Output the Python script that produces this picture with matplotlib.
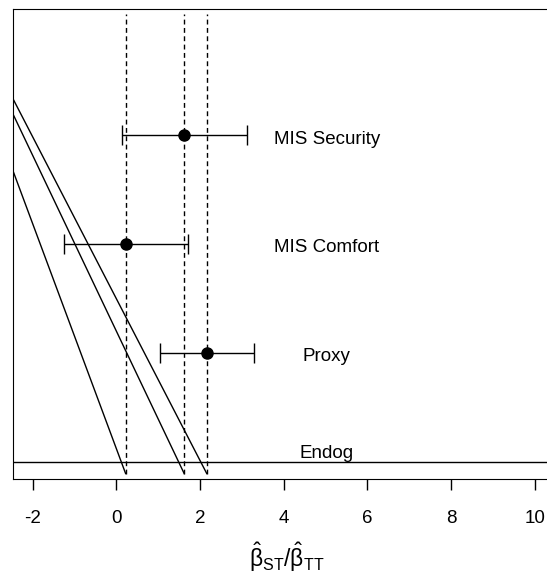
import numpy as np
import matplotlib.pyplot as plt

plt.rcParams['font.family'] = ['Liberation Sans', 'DejaVu Sans']
plt.rcParams['mathtext.fontset'] = 'custom'
plt.rcParams['mathtext.rm'] = 'Liberation Sans'
plt.rcParams['mathtext.it'] = 'Liberation Sans'

# model rows (y = 0 .. 3)
labels = ['Endog', 'Proxy', 'MIS Comfort', 'MIS Security']
rows = [0, 1, 2, 3]

# estimates with intervals (Proxy, MIS Comfort, MIS Security)
est_rows = [1, 2, 3]
est = [2.16, 0.22, 1.62]
ci_lo = [1.05, -1.25, 0.13]
ci_hi = [3.29, 1.71, 3.13]

# slanted lines: left-edge height, ending at each estimate
slant_start = [3.34, 2.68, 3.20]
seg_lo, seg_hi = -0.11, 4.11
x_left, x_right = -2.48, 10.63
xticks = [-2, 0, 2, 4, 6, 8, 10]

fig = plt.figure(figsize=(5.47, 5.74), dpi=100)
ax = fig.add_axes([12.7/547, 1 - 479/574, (561 - 12.7)/547, (479 - 9)/574])

for e, s in zip(est, slant_start):
    ax.plot([x_left, e], [s, seg_lo], color='black', lw=1)
    ax.plot([e, e], [seg_lo, seg_hi], color='black', lw=1, ls=(0, (3.5, 2.5)))

ax.axhline(0, color='black', lw=1)

ax.errorbar(est, est_rows, xerr=[np.subtract(est, ci_lo), np.subtract(ci_hi, est)],
            fmt='o', color='black', ms=8, lw=1, capsize=7.5, capthick=1)

for lab, r in zip(labels, rows):
    if r == 0:
        ax.text(5.03, r + 0.035, lab, ha='center', va='baseline', fontsize=13.5)
    else:
        ax.text(5.03, r - 0.077, lab, ha='center', va='baseline', fontsize=13.5)

ax.set_xlim(x_left, x_right)
ax.set_ylim(-0.16, 4.16)
ax.set_xticks(xticks)
ax.set_xticklabels([str(t) for t in xticks])
ax.set_yticks([])
ax.tick_params(axis='x', length=8, width=1, pad=14, labelsize=13.5)
ax.set_xlabel(r'$\hat{\beta}_{\mathrm{ST}}/\hat{\beta}_{\mathrm{TT}}$', fontsize=16.5, labelpad=10)

fig.savefig('out.png', dpi=100)
